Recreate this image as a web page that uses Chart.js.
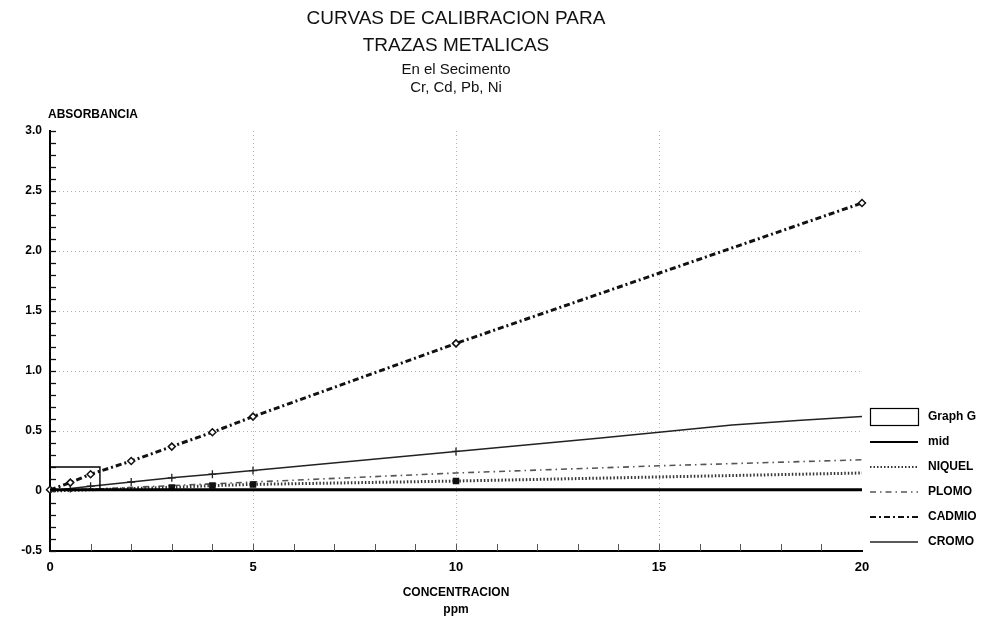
<!DOCTYPE html>
<html>
<head>
<meta charset="utf-8">
<script src="https://cdn.jsdelivr.net/npm/chart.js@4.4.1/dist/chart.umd.min.js"></script>
<style>
  html, body { margin: 0; padding: 0; background: #ffffff; }
  #wrap { width: 981px; height: 618px; position: relative; }
  canvas { display: block; }
</style>
</head>
<body>
<div id="wrap"><canvas id="c" width="981" height="618"></canvas></div>
<script>
// ---- data ----
const xTickLabels = ['0', '5', '10', '15', '20'];
const yTickLabels = ['-0.5', '0', '0.5', '1.0', '1.5', '2.0', '2.5', '3.0'];

const seriesNames = ['Graph G', 'mid', 'NIQUEL', 'PLOMO', 'CADMIO', 'CROMO'];

const xGraphG = [0, 1.23, 1.23];
const yGraphG = [0.2, 0.2, 0];

const xMid = [0, 20];
const yMid = [0.01, 0.01];

const xNiquel = [0, 0.5, 1, 2, 3, 4, 5, 10, 15, 20];
const yNiquel = [0, 0.005, 0.01, 0.02, 0.03, 0.045, 0.055, 0.083, 0.117, 0.15];
const niquelMarked = [3, 4, 5, 10];

const xPlomo = [0, 1, 2, 3, 4, 5, 10, 15, 20];
const yPlomo = [0, 0.015, 0.03, 0.045, 0.06, 0.075, 0.15, 0.21, 0.26];

const xCadmio = [0, 0.5, 1, 2, 3, 4, 5, 10, 20];
const yCadmio = [0.01, 0.07, 0.14, 0.25, 0.37, 0.49, 0.62, 1.23, 2.40];

const xCromo = [0, 0.5, 1, 2, 3, 4, 5, 10, 13.5, 15, 16.8, 18.5, 20];
const yCromo = [0, 0.02, 0.04, 0.075, 0.11, 0.14, 0.17, 0.33, 0.44, 0.49, 0.55, 0.59, 0.62];
const cromoMarked = [0.5, 1, 2, 3, 4, 5, 10];

// ---- helpers ----
const pts = (xs, ys) => xs.map((x, i) => ({ x: x, y: ys[i] }));
const FONT = '"Liberation Sans", Arial, sans-serif';

const datasets = [
  { label: seriesNames[0], data: pts(xGraphG, yGraphG), borderColor: '#000', borderWidth: 1.4,
    pointRadius: 0, legendKind: 'box' },
  { label: seriesNames[1], data: pts(xMid, yMid), borderColor: '#000', borderWidth: 3,
    pointRadius: 0 },
  { label: seriesNames[2], data: pts(xNiquel, yNiquel), borderColor: '#333', borderWidth: 3,
    borderDash: [1.5, 2], pointStyle: 'rect', pointBackgroundColor: '#111', pointBorderColor: '#111',
    pointRadius: xNiquel.map(x => niquelMarked.includes(x) ? 2.5 : 0) },
  { label: seriesNames[3], data: pts(xPlomo, yPlomo), borderColor: '#555', borderWidth: 1.6,
    borderDash: [6, 4, 1.5, 4], pointRadius: 0 },
  { label: seriesNames[4], data: pts(xCadmio, yCadmio), borderColor: '#111', borderWidth: 3,
    borderDash: [6, 3, 2, 3], pointStyle: 'rectRot', pointRadius: 3.5,
    pointBackgroundColor: '#fff', pointBorderColor: '#111', pointBorderWidth: 1.5 },
  { label: seriesNames[5], data: pts(xCromo, yCromo), borderColor: '#222', borderWidth: 1.5,
    pointStyle: 'cross', pointBorderColor: '#222', pointBorderWidth: 1.3,
    pointRadius: xCromo.map(x => cromoMarked.includes(x) ? 4 : 0) }
].map(d => Object.assign({ showLine: true, fill: false, tension: 0, clip: false }, d));

const gridColor = 'rgba(140,160,140,0.75)';

const decor = {
  id: 'decor',
  beforeDatasetsDraw(chart) {
    const { ctx, chartArea: a, scales: { x, y } } = chart;
    ctx.save();
    // minor ticks inside, y axis
    ctx.strokeStyle = '#111';
    ctx.lineWidth = 1.3;
    for (let k = -5; k <= 30; k++) {
      const py = Math.round(y.getPixelForValue(k / 10)) + 0.5;
      ctx.beginPath(); ctx.moveTo(a.left, py); ctx.lineTo(a.left + 6, py); ctx.stroke();
    }
    // minor ticks inside, x axis
    ctx.strokeStyle = '#555';
    ctx.lineWidth = 1;
    for (let k = 1; k <= 19; k++) {
      const px = Math.round(x.getPixelForValue(k)) + 0.5;
      ctx.beginPath(); ctx.moveTo(px, a.bottom); ctx.lineTo(px, a.bottom - 7); ctx.stroke();
    }
    ctx.restore();
  },
  afterDraw(chart) {
    const { ctx, chartArea: a } = chart;
    ctx.save();
    // y axis title
    ctx.fillStyle = '#000';
    ctx.font = 'bold 12px ' + FONT;
    ctx.textAlign = 'left';
    ctx.textBaseline = 'middle';
    ctx.fillText('ABSORBANCIA', a.left - 2, a.top - 16);
    // legend
    const x0 = a.right + 8, w = 48;
    chart.data.datasets.forEach((d, i) => {
      const yy = a.bottom - 134 + i * 25;
      ctx.save();
      ctx.strokeStyle = d.borderColor;
      if (d.legendKind === 'box') {
        ctx.lineWidth = 1.2;
        ctx.strokeRect(x0 + 0.5, yy - 8.5, w, 17);
      } else {
        ctx.lineWidth = Math.min(d.borderWidth, 2);
        ctx.setLineDash(d.borderDash || []);
        ctx.beginPath(); ctx.moveTo(x0, yy); ctx.lineTo(x0 + w, yy); ctx.stroke();
      }
      ctx.restore();
      ctx.fillStyle = '#000';
      ctx.font = 'bold 12px ' + FONT;
      ctx.textAlign = 'left';
      ctx.textBaseline = 'middle';
      ctx.fillText(d.label, x0 + w + 10, yy);
    });
    ctx.restore();
  }
};

new Chart(document.getElementById('c'), {
  type: 'scatter',
  data: { datasets: datasets },
  plugins: [decor],
  options: {
    responsive: false,
    animation: false,
    devicePixelRatio: 1,
    layout: { padding: { top: 0, right: 119, bottom: 0, left: 0 } },
    plugins: {
      legend: { display: false },
      tooltip: { enabled: false },
      title: {
        display: true, fullSize: false,
        text: ['CURVAS DE CALIBRACION PARA', 'TRAZAS METALICAS'],
        color: '#111',
        font: { family: FONT, size: 19, weight: 'normal', lineHeight: '27px' },
        padding: { top: 5, bottom: 2 }
      },
      subtitle: {
        display: true, fullSize: false,
        text: ['En el Secimento', 'Cr, Cd, Pb, Ni'],
        color: '#111',
        font: { family: FONT, size: 15, weight: 'normal', lineHeight: '18px' },
        padding: { top: 0, bottom: 34 }
      }
    },
    scales: {
      x: {
        type: 'linear', min: 0, max: 20,
        ticks: {
          stepSize: 5, color: '#000', padding: 9,
          font: { family: FONT, size: 13, weight: 'bold' },
          callback: (v) => xTickLabels[Math.round(v / 5)]
        },
        grid: {
          drawTicks: false, lineWidth: 1,
          color: (c) => (c.tick && [5, 10, 15].includes(c.tick.value)) ? gridColor : 'transparent'
        },
        border: { color: '#000', width: 2, dash: [1, 3] },
        title: {
          display: true, text: ['CONCENTRACION', 'ppm'], color: '#000',
          font: { family: FONT, size: 12, weight: 'bold', lineHeight: '17px' },
          padding: { top: 0, bottom: 0 }
        },
        afterFit: (s) => { s.height = 67; }
      },
      y: {
        type: 'linear', min: -0.5, max: 3,
        ticks: {
          stepSize: 0.5, color: '#000', padding: 8,
          font: { family: FONT, size: 12, weight: 'bold' },
          callback: (v) => yTickLabels[Math.round((v + 0.5) / 0.5)]
        },
        grid: {
          drawTicks: false, lineWidth: 1,
          color: (c) => (c.tick && c.tick.value > 0.1 && c.tick.value < 2.9) ? gridColor : 'transparent'
        },
        border: { color: '#000', width: 2, dash: [1, 3] },
        afterFit: (s) => { s.width = 50; }
      }
    }
  }
});
</script>
</body>
</html>
